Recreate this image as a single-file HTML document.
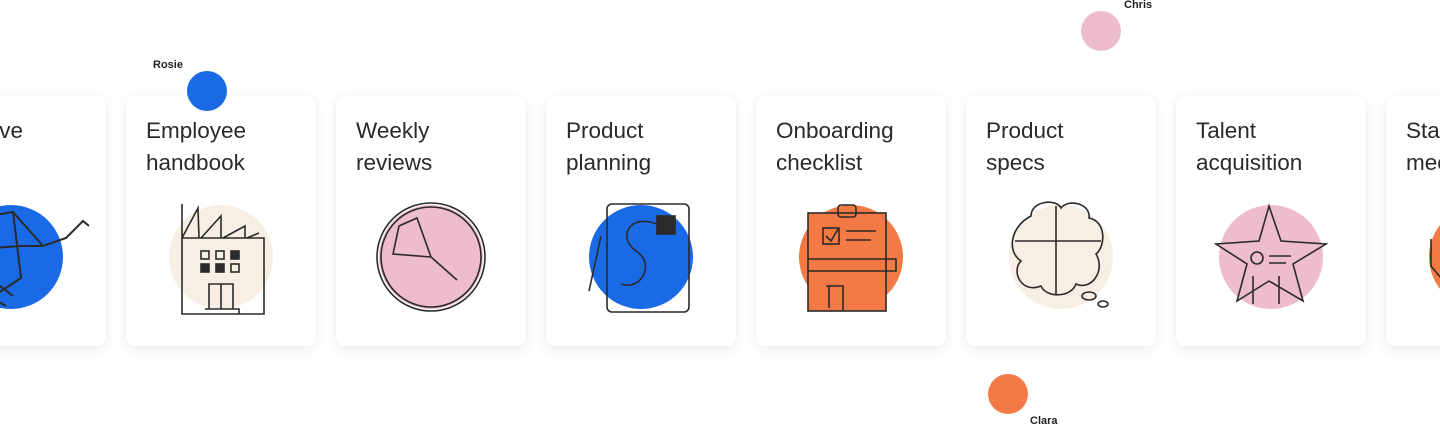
<!DOCTYPE html>
<html><head><style>
html,body{margin:0;width:1440px;height:426px;overflow:hidden}
body{background:#fff;position:relative;font-family:"Liberation Sans",sans-serif}
.card{position:absolute;top:96px;width:190px;height:250px;background:#fff;border-radius:8px;box-shadow:0 4px 14px rgba(0,0,0,.07),0 0 3px rgba(0,0,0,.04);overflow:hidden}
.t{position:absolute;left:20px;top:19px;font-size:22.5px;line-height:32px;color:#2a2a2a;white-space:nowrap}
.c{position:absolute;left:43px;top:109px;width:104px;height:104px;border-radius:50%}
.card svg{position:absolute;left:35px;top:100px}
.cur{position:absolute;width:40px;height:40px;border-radius:50%}
.lab{position:absolute;font-size:11px;font-weight:bold;color:#222}
</style></head><body>
<div class="card" style="left:-84px;overflow:visible"><div class="t" style="left:auto;right:83px;text-align:right">Creative<br>&nbsp;</div><div class="c" style="background:#1a6ae6"></div>
<svg width="130" height="120" fill="none" stroke="#2a2a2a" stroke-width="2" style="overflow:visible"><path d="M0 26 L62 16 L70 82 L12 120 M62 16 L92 50 L115 42 L132 25 L138 30 M0 55 L70 50 L92 50 M20 90 L55 110 M30 75 L62 100"/></svg></div>
<div class="card" style="left:126px"><div class="t">Employee<br>handbook</div><div class="c" style="background:#f8efe4"></div>
<svg width="120" height="120" fill="none" stroke="#2a2a2a" stroke-width="1.6"><path d="M21 8 V118 H103 V42 H21 M21 42 L37 12 L38 42 M40 42 L60 20 L60 42 M62 42 L84 30 L84 42 M86 42 L98 37"/><rect x="40" y="55" width="8" height="8"/><rect x="55" y="55" width="8" height="8"/><rect x="70" y="55" width="8" height="8" fill="#2a2a2a"/><rect x="40" y="68" width="8" height="8" fill="#2a2a2a"/><rect x="55" y="68" width="8" height="8" fill="#2a2a2a"/><rect x="70" y="68" width="8" height="8"/><path d="M48 113 V88 H72 V113 M60 88 V113 M44 113 H78 V118"/></svg></div>
<div class="card" style="left:336px"><div class="t">Weekly<br>reviews</div><div class="c" style="background:#edbccd"></div>
<svg width="120" height="120" fill="none" stroke="#2a2a2a" stroke-width="1.6"><circle cx="60" cy="61" r="54"/><circle cx="60" cy="61" r="50"/><path d="M60 61 L46 22 L28 30 L22 58 Z M60 61 L86 84"/></svg></div>
<div class="card" style="left:546px"><div class="t">Product<br>planning</div><div class="c" style="background:#1a6ae6"></div>
<svg width="120" height="120" fill="none" stroke="#2a2a2a" stroke-width="1.6"><rect x="26" y="8" width="82" height="108" rx="5"/><path d="M80 30 C50 15 35 40 55 55 C75 68 60 95 40 88 M20 40 L8 95"/><rect x="76" y="20" width="18" height="18" fill="#2a2a2a"/></svg></div>
<div class="card" style="left:756px"><div class="t">Onboarding<br>checklist</div><div class="c" style="background:#f47a45"></div>
<svg width="120" height="120" fill="none" stroke="#2a2a2a" stroke-width="1.6"><rect x="17" y="17" width="78" height="98" fill="#f47a45"/><rect x="47" y="9" width="18" height="12" rx="3"/><rect x="32" y="32" width="16" height="16"/><path d="M35 40 L40 45 L47 33 M55 35 H85 M55 44 H80 M17 63 H105 V75 H17 M35 90 H52 V115 M38 90 V112"/></svg></div>
<div class="card" style="left:966px"><div class="t">Product<br>specs</div><div class="c" style="background:#f8efe4"></div>
<svg width="120" height="120" fill="none" stroke="#2a2a2a" stroke-width="1.6"><path d="M30 20 C30 5 55 2 60 12 C68 2 90 8 88 22 C105 25 105 50 95 58 C105 75 90 95 75 88 C70 102 45 102 40 90 C20 98 10 75 20 65 C5 55 10 30 30 20 Z M14 45 H100 M55 10 V98"/><ellipse cx="88" cy="100" rx="7" ry="4"/><ellipse cx="102" cy="108" rx="5" ry="3"/></svg></div>
<div class="card" style="left:1176px"><div class="t">Talent<br>acquisition</div><div class="c" style="background:#edbccd"></div>
<svg width="120" height="120" fill="none" stroke="#2a2a2a" stroke-width="1.6"><path d="M58 10 L70 45 L115 48 L82 68 L92 105 L58 85 L26 105 L36 68 L5 48 L48 45 Z"/><circle cx="46" cy="62" r="6"/><path d="M58 60 H80 M58 67 H75 M42 80 V108 M68 80 V108"/></svg></div>
<div class="card" style="left:1386px"><div class="t">Stand-up<br>meetings</div><div class="c" style="background:#f47a45"></div>
<svg width="60" height="120" fill="none" stroke="#2a2a2a" stroke-width="1.6"><path d="M10 43 V70 L20 82 V110"/></svg></div>
<div class="cur" style="left:187px;top:71px;background:#1a6ae6"></div><div class="lab" style="left:153px;top:59px">Rosie</div>
<div class="cur" style="left:1081px;top:11px;background:#edbccd"></div><div class="lab" style="left:1124px;top:-1px">Chris</div>
<div class="cur" style="left:988px;top:374px;background:#f47a45"></div><div class="lab" style="left:1030px;top:415px">Clara</div>
</body></html>
